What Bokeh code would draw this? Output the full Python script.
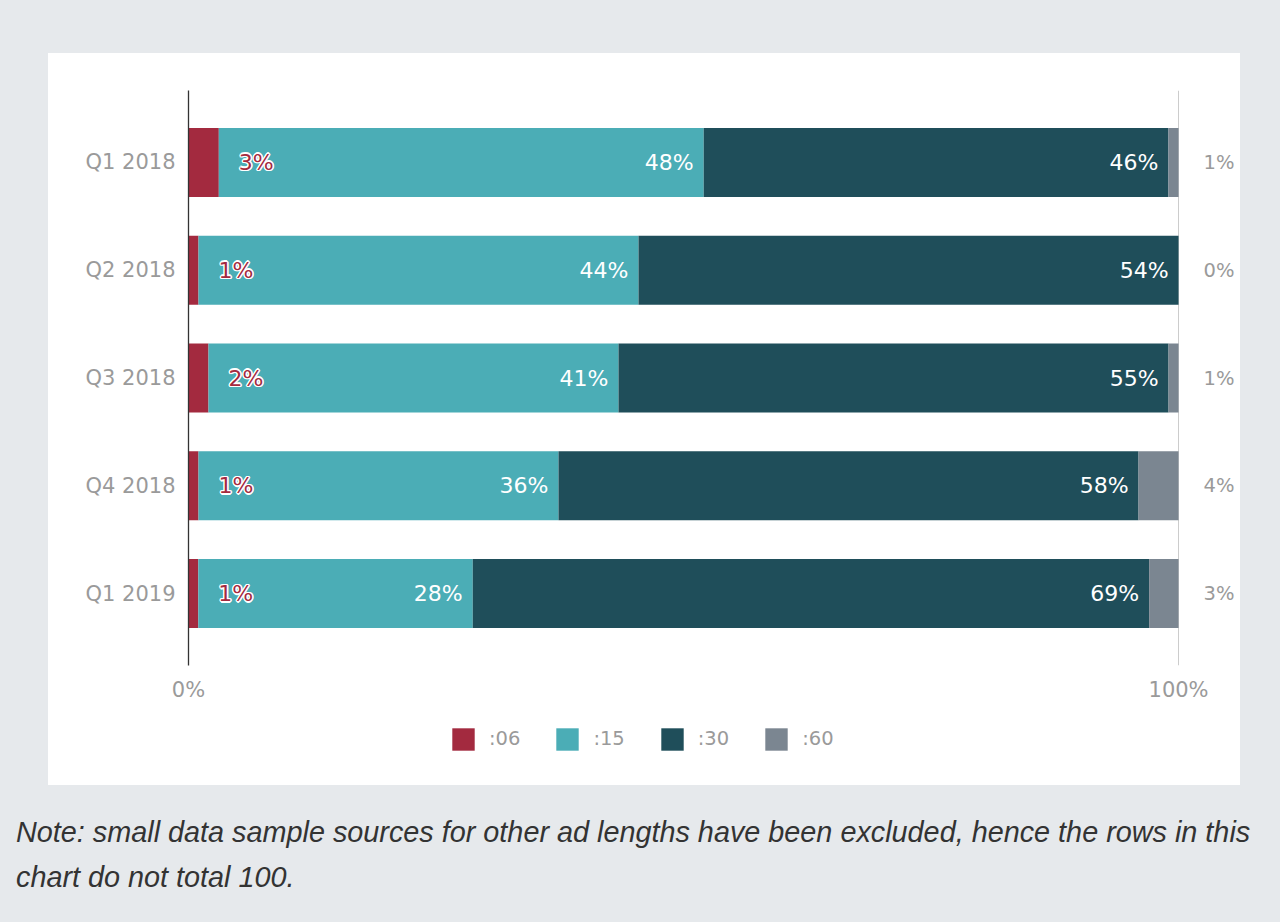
import numpy as np
from bokeh.plotting import figure
from bokeh.models import (ColumnDataSource, Range1d, FixedTicker, LinearAxis,
                          Legend, LegendItem, Div, Text)
from bokeh.layouts import column
from bokeh.core.properties import value
from bokeh.embed import file_html
from bokeh.resources import INLINE

# ---- data ----
quarters = ["Q1 2018", "Q2 2018", "Q3 2018", "Q4 2018", "Q1 2019"]
s06 = [3, 1, 2, 1, 1]
s15 = [48, 44, 41, 36, 28]
s30 = [46, 54, 55, 58, 69]
s60 = [1, 0, 1, 4, 3]
series_names = [":06", ":15", ":30", ":60"]
x_ticks = [0, 100]
x_tick_labels = ["0%", "100%"]
note_lines = ["Note: small data sample sources for other ad lengths have been excluded, hence the rows in this",
              "chart do not total 100."]

# ---- styles ----
colors = ["#a32a3f", "#4badb6", "#1f4e5a", "#7b8691"]
FONT = "DejaVu Sans"
LABEL_GRAY = "#9a9a9a"
PAGE_BG = "#e6e9ec"

vals = np.array([s06, s15, s30, s60], dtype=float)
share = vals / vals.sum(axis=0) * 100.0
cum = np.cumsum(share, axis=0)
left = cum - share
ypos = list(range(len(quarters)))

p = figure(width=1192, height=659,
           x_range=Range1d(0, 100.4), y_range=Range1d(4.668, -0.668),
           output_backend="svg", toolbar_location=None,
           min_border_left=140, min_border_right=58,
           min_border_top=37, min_border_bottom=47,
           background_fill_color="white", border_fill_color="white",
           outline_line_color=None, margin=(53, 0, 0, 48),
           styles={"background-color": "white"})

data = dict(y=ypos)
for i in range(4):
    data[f"l{i}"] = left[i]
    data[f"r{i}"] = cum[i]
src = ColumnDataSource(data)

for i in range(4):
    p.hbar(y="y", left=f"l{i}", right=f"r{i}", height=0.64, source=src,
           fill_color=colors[i], line_color=None)

# value labels inside the :15 and :30 segments
for i, vv in ((1, s15), (2, s30)):
    lsrc = ColumnDataSource(dict(x=cum[i], y=ypos, t=[f"{v}%" for v in vv]))
    p.text(x="x", y="y", text="t", source=lsrc, text_align="right",
           text_baseline="middle", x_offset=-10, text_color="white",
           text_font=value(FONT), text_font_size="22px")

# :06 labels (crimson with white halo)
rsrc = ColumnDataSource(dict(x=cum[0], y=ypos, t=[f"{v}%" for v in s06]))
if "outline_color" in Text.properties():
    p.text(x="x", y="y", text="t", source=rsrc, text_align="left",
           text_baseline="middle", x_offset=20, text_color=colors[0],
           outline_color="white", text_font=value(FONT),
           text_font_size="22px")
else:
    for dx, dy in [(-1.5, 0), (1.5, 0), (0, -1.5), (0, 1.5), (-1, -1), (1, 1), (-1, 1), (1, -1)]:
        p.text(x="x", y="y", text="t", source=rsrc, text_align="left",
               text_baseline="middle", x_offset=20 + dx, y_offset=dy,
               text_color="white", text_font=value(FONT), text_font_size="22px")
    p.text(x="x", y="y", text="t", source=rsrc, text_align="left",
           text_baseline="middle", x_offset=20, text_color=colors[0],
           text_font=value(FONT), text_font_size="22px")

# x axis
xa = p.xaxis[0]
xa.ticker = FixedTicker(ticks=x_ticks)
xa.major_label_overrides = {t: l for t, l in zip(x_ticks, x_tick_labels)}
xa.axis_line_color = None
xa.major_tick_line_color = None
xa.major_tick_out = 0
xa.major_tick_in = 0
xa.minor_tick_line_color = None
xa.major_label_text_color = LABEL_GRAY
xa.major_label_text_font = FONT
xa.major_label_text_font_size = "21px"
xa.major_label_standoff = 12

# left axis
ya = p.yaxis[0]
ya.ticker = FixedTicker(ticks=ypos)
ya.major_label_overrides = {i: q for i, q in zip(ypos, quarters)}
ya.axis_line_color = "#333333"
ya.axis_line_width = 1.3
ya.major_tick_line_color = None
ya.major_tick_out = 0
ya.major_tick_in = 0
ya.minor_tick_line_color = None
ya.major_label_text_color = LABEL_GRAY
ya.major_label_text_font = FONT
ya.major_label_text_font_size = "21px"
ya.major_label_standoff = 13

# right axis (:60 values)
ra = LinearAxis(ticker=FixedTicker(ticks=ypos),
                major_label_overrides={i: f"{v}%" for i, v in zip(ypos, s60)},
                axis_line_color=None, major_tick_line_color=None,
                major_tick_out=0, major_tick_in=0,
                minor_tick_line_color=None, major_label_text_color=LABEL_GRAY,
                major_label_text_font=FONT, major_label_text_font_size="19.5px",
                major_label_standoff=21)
p.add_layout(ra, "right")

p.ygrid.visible = False
p.xgrid.ticker = FixedTicker(ticks=[100])
p.xgrid.grid_line_color = "#cccccc"

# ---- legend strip (continues the white panel) ----
lf = figure(width=1192, height=73, x_range=Range1d(0, 100.4), y_range=Range1d(4.668, -0.668),
            output_backend="svg", toolbar_location=None,
            x_axis_type=None, y_axis_type=None,
            min_border=0, min_border_left=0, min_border_right=0,
            min_border_top=0, min_border_bottom=0,
            background_fill_color="white", border_fill_color="white",
            outline_line_color=None, margin=(0, 0, 0, 48),
            styles={"background-color": "white"})
lf.xgrid.visible = False
lf.ygrid.visible = False
lrends = []
for i in range(4):
    r = lf.hbar(y="y", left=f"l{i}", right=f"r{i}", height=0.64, source=src,
                fill_color=colors[i], line_color=None, visible=False)
    lrends.append(r)

legend = Legend(items=[LegendItem(label=n, renderers=[r]) for n, r in zip(series_names, lrends)],
                orientation="horizontal", location=(261, 32.5),
                glyph_width=28, glyph_height=28, label_standoff=12, spacing=33,
                padding=0, margin=0, border_line_color=None,
                background_fill_alpha=0, label_text_font=FONT,
                label_text_font_size="19.5px", label_text_color=LABEL_GRAY,
                label_text_baseline="middle")
lf.add_layout(legend, "center")

note = Div(text=('<div style="font-family:\'Liberation Sans\',Arial,sans-serif;'
                 'font-style:italic;font-size:28.8px;line-height:45px;color:#333333;'
                 'white-space:nowrap">' + "<br>".join(note_lines) + '</div>'),
           width=1260, height=100, margin=(25, 0, 0, 16))

layout = column(p, lf, note, width=1280, height=922, spacing=0,
                styles={"background-color": PAGE_BG})

open("out.html", "w").write(file_html(layout, INLINE))
